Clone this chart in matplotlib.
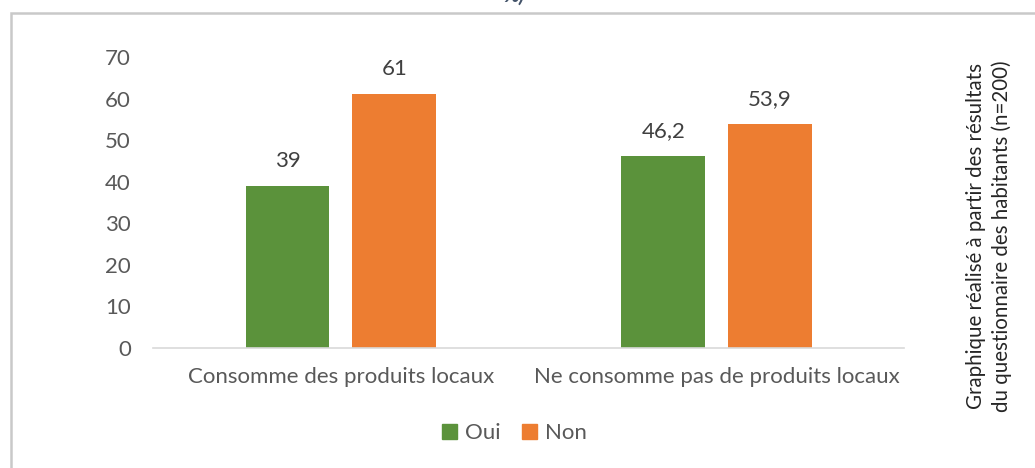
import numpy as np
import matplotlib
matplotlib.use('Agg')
import matplotlib.pyplot as plt
from matplotlib.patches import Rectangle, Patch

# Données ------------------------------------------------------------------
categories = ['Consomme des produits locaux', 'Ne consomme pas de produits locaux']
oui = [39, 46.2]
non = [61, 53.9]
oui_labels = ['39', '46,2']
non_labels = ['61', '53,9']
series_names = ['Oui', 'Non']
source_note = ('Graphique réalisé à partir des résultats\n'
               'du questionnaire des habitants (n=200)')
# --------------------------------------------------------------------------

green = '#5B923B'
orange = '#ED7D31'
txt = '#595959'
plt.rcParams['font.family'] = ['Lato', 'DejaVu Sans']

fig = plt.figure(figsize=(10.35, 4.68), dpi=100)
ax = fig.add_axes([0.1478, 0.2564, 0.7261, 0.6218])

x = np.arange(len(categories))
w = 0.223
off = 0.142
b1 = ax.bar(x - off, oui, w, color=green, label=series_names[0])
b2 = ax.bar(x + off, non, w, color=orange, label=series_names[1])

for bars, labels in ((b1, oui_labels), (b2, non_labels)):
    for rect, lab in zip(bars, labels):
        ax.annotate(lab, (rect.get_x() + rect.get_width() / 2, rect.get_height()),
                    xytext=(0, 18), textcoords='offset points',
                    ha='center', va='center', fontsize=16, color='#404040')

ax.set_xlim(-0.5, 1.5)
ax.set_ylim(0, 70)
ax.set_yticks(range(0, 71, 10))
ax.set_xticks(x)
ax.set_xticklabels(categories)
ax.tick_params(axis='both', length=0, labelsize=16, colors=txt)
ax.tick_params(axis='y', pad=16)
ax.tick_params(axis='x', pad=14)
for s in ('top', 'right', 'left'):
    ax.spines[s].set_visible(False)
ax.spines['bottom'].set_color('#d9d9d9')
ax.spines['bottom'].set_linewidth(1.2)

handles = [Patch(color=green), Patch(color=orange)]
fig.legend(handles, series_names, loc='center', bbox_to_anchor=(0.497, 0.075),
           ncol=2, frameon=False, fontsize=16, handlelength=0.65, handleheight=0.65,
           handletextpad=0.35, columnspacing=1.0, labelcolor=txt)

# note verticale à droite
fig.text(0.9555, 0.496, source_note, rotation=90, ha='center', va='center',
         multialignment='center', fontsize=14.8, color='#262626', linespacing=1.32)

# cadre du graphique
fig.patches.append(Rectangle((10.5 / 1035, -0.2), 1.2, 0.2 + (468 - 13) / 468,
                             transform=fig.transFigure, fill=False,
                             edgecolor='#c9c9c9', linewidth=1.8, zorder=0))

# bas du titre
fig.text(0.497, 1 - 2 / 468, '%)', ha='center', va='baseline', fontsize=15,
         fontweight='bold', fontstyle='italic', color='#44546A')

fig.savefig('out.png', dpi=100, facecolor='white')
